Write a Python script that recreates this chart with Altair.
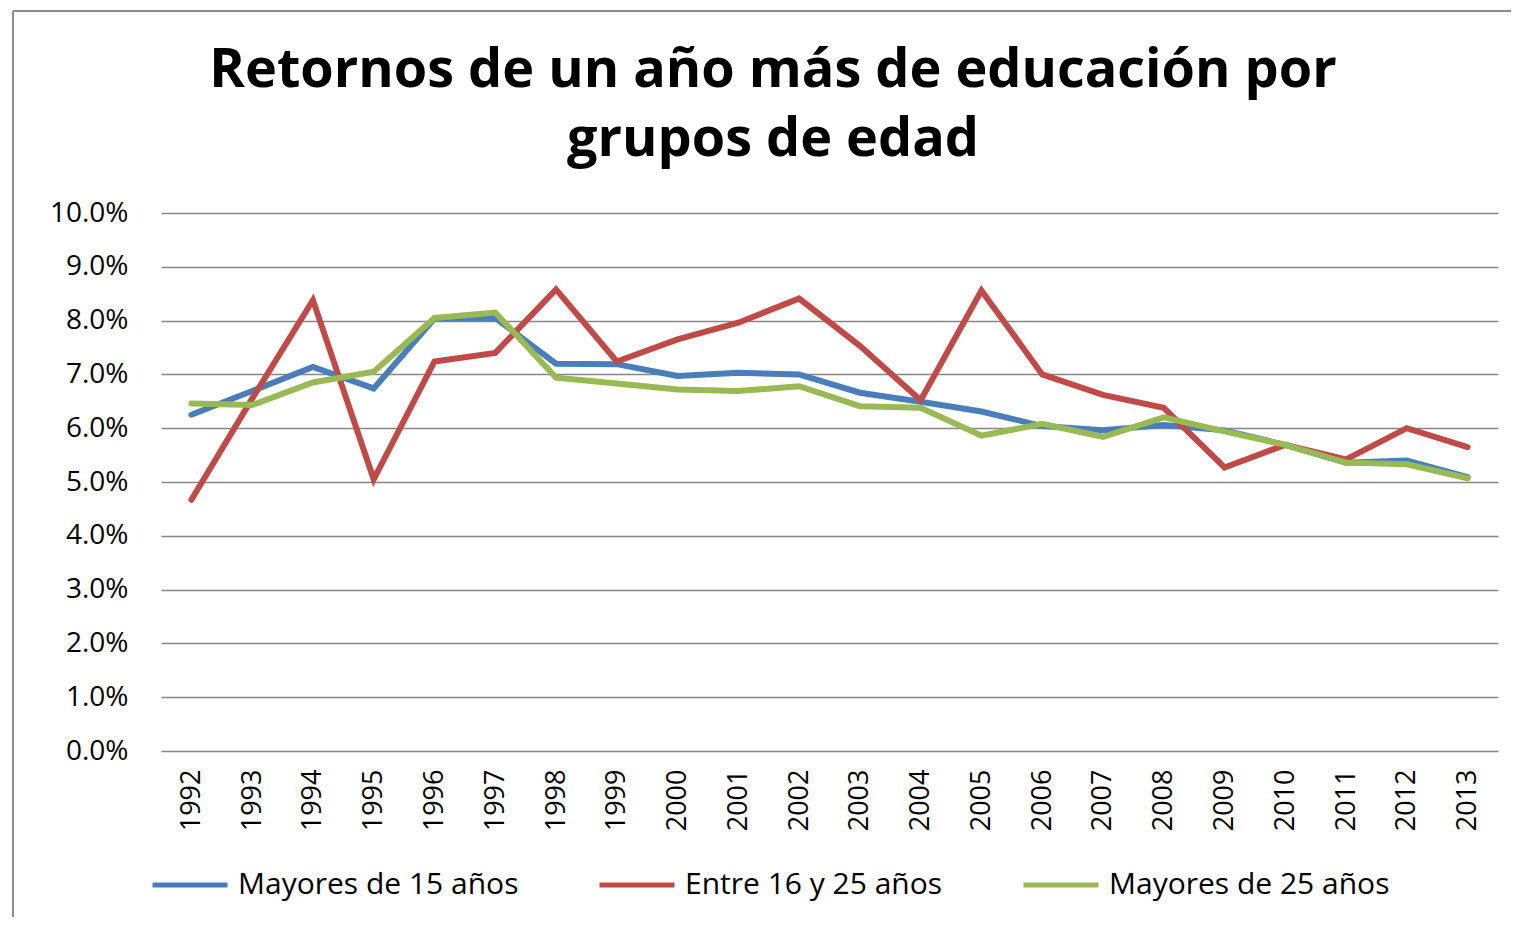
import altair as alt
import pandas as pd

years = [str(y) for y in range(1992, 2014)]
series_names = ["Mayores de 15 años", "Entre 16 y 25 años", "Mayores de 25 años"]
mayores15 = [6.25, 6.69, 7.14, 6.74, 8.04, 8.05, 7.20, 7.19, 6.97, 7.03, 7.00,
             6.66, 6.49, 6.31, 6.04, 5.96, 6.06, 5.96, 5.69, 5.36, 5.40, 5.09]
entre16_25 = [4.67, 6.55, 8.38, 5.05, 7.24, 7.40, 8.58, 7.24, 7.65, 7.96, 8.41,
              7.53, 6.52, 8.56, 7.00, 6.62, 6.38, 5.27, 5.69, 5.42, 6.00, 5.65]
mayores25 = [6.46, 6.43, 6.85, 7.05, 8.05, 8.15, 6.94, 6.83, 6.72, 6.69, 6.78,
             6.41, 6.38, 5.86, 6.08, 5.84, 6.20, 5.94, 5.69, 5.36, 5.33, 5.07]
colors = ["#4A7EBB", "#BE4B48", "#98B954"]
title_lines = ["Retornos de un año más de educación por", "grupos de edad"]

rows = []
for name, vals in zip(series_names, [mayores15, entre16_25, mayores25]):
    for yr, v in zip(years, vals):
        rows.append({"year": yr, "serie": name, "valor": v / 100.0})
df = pd.DataFrame(rows)

FONT = "Open Sans"
W, H = 1337, 538

lines = alt.Chart(df).mark_line(strokeWidth=6, strokeCap="round", strokeJoin="miter").encode(
    x=alt.X("year:N", sort=years, title=None,
            scale=alt.Scale(paddingInner=0, paddingOuter=0.5),
            axis=alt.Axis(labelAngle=-90, labelAlign="right", labelBaseline="middle",
                          labelPadding=18, ticks=False, domain=False, grid=False,
                          labelFont=FONT, labelFontSize=27, labelColor="#000000")),
    y=alt.Y("valor:Q", title=None,
            scale=alt.Scale(domain=[0, 0.10], nice=False),
            axis=alt.Axis(format=".1%", values=[i / 100 for i in range(0, 11)],
                          labelPadding=33, ticks=False, domain=False,
                          grid=True, gridColor="#868686", gridWidth=1.5,
                          labelFont=FONT, labelFontSize=28, labelColor="#000000")),
    color=alt.Color("serie:N", sort=series_names,
                    scale=alt.Scale(domain=series_names, range=colors),
                    legend=alt.Legend(title=None, orient="none", direction="horizontal",
                                      legendX=-11, legendY=632,
                                      symbolType="stroke", symbolSize=5625,
                                      symbolStrokeWidth=5, labelOffset=8,
                                      columnPadding=70, labelLimit=500,
                                      labelFont=FONT, labelFontSize=30,
                                      labelColor="#000000")),
)

frame_df = pd.DataFrame({"k": [0]})
left_rule = alt.Chart(frame_df).mark_rule(color="#8c8c8c", strokeWidth=2).encode(
    x=alt.value(-148), y=alt.value(-202), y2=alt.value(704))
top_rule = alt.Chart(frame_df).mark_rule(color="#8c8c8c", strokeWidth=2).encode(
    x=alt.value(-148), x2=alt.value(1350), y=alt.value(-202))

t1 = alt.Chart(pd.DataFrame({"t": [title_lines[0]]})).mark_text(
    font=FONT, fontSize=54, fontWeight="bold", color="#000000",
    align="center", baseline="alphabetic").encode(
    x=alt.value(612), y=alt.value(-126), text="t:N")
t2 = alt.Chart(pd.DataFrame({"t": [title_lines[1]]})).mark_text(
    font=FONT, fontSize=54, fontWeight="bold", color="#000000",
    align="center", baseline="alphabetic").encode(
    x=alt.value(612), y=alt.value(-57), text="t:N")

chart = alt.layer(lines, left_rule, top_rule, t1, t2).properties(
    width=W, height=H,
    padding={"left": 4, "top": 2, "right": 0, "bottom": 0},
).configure_view(stroke=None)

chart.save("out.html", embed_options={"renderer": "svg", "actions": False})
